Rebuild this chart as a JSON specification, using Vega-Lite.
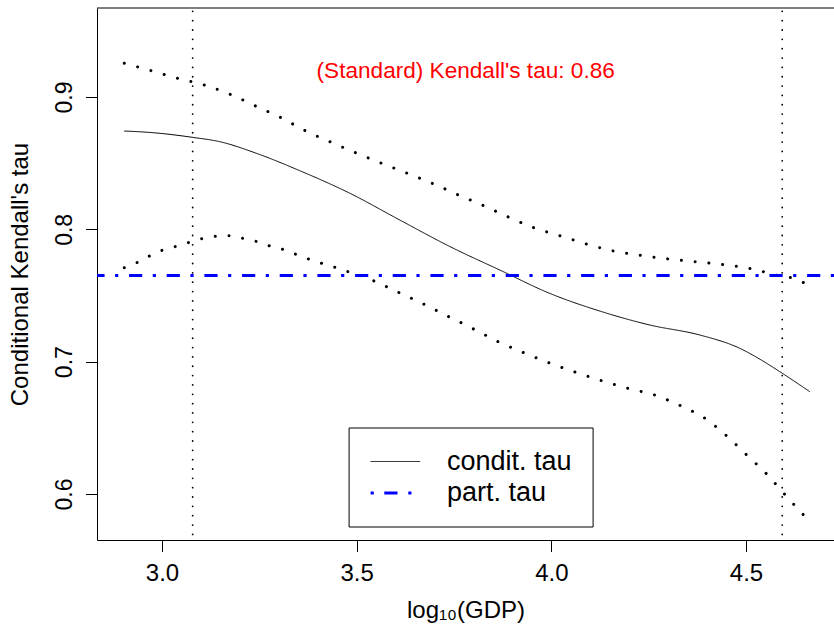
{
  "$schema": "https://vega.github.io/schema/vega-lite/v6.json",
  "width": 737,
  "height": 532,
  "autosize": {"type": "none"},
  "padding": {"left": 97, "top": 8, "right": 0, "bottom": 84},
  "background": "white",
  "config": {
    "font": "Liberation Sans",
    "view": {"stroke": null},
    "axis": {
      "grid": false,
      "domainColor": "black",
      "domainWidth": 1,
      "tickColor": "black",
      "tickWidth": 1,
      "tickSize": 11.5,
      "labelColor": "black",
      "titleColor": "black",
      "labelFont": "Liberation Sans",
      "titleFont": "Liberation Sans",
      "labelFontSize": 24,
      "titleFontSize": 24,
      "titleFontWeight": "normal"
    }
  },
  "datasets": {
    "condit": [
      {"x": 2.903, "y": 0.8743, "series": "condit. tau"},
      {"x": 2.978, "y": 0.8730, "series": "condit. tau"},
      {"x": 3.079, "y": 0.8695, "series": "condit. tau"},
      {"x": 3.149, "y": 0.8662, "series": "condit. tau"},
      {"x": 3.243, "y": 0.8574, "series": "condit. tau"},
      {"x": 3.354, "y": 0.8443, "series": "condit. tau"},
      {"x": 3.483, "y": 0.8272, "series": "condit. tau"},
      {"x": 3.611, "y": 0.8070, "series": "condit. tau"},
      {"x": 3.740, "y": 0.7869, "series": "condit. tau"},
      {"x": 3.868, "y": 0.7692, "series": "condit. tau"},
      {"x": 3.996, "y": 0.7516, "series": "condit. tau"},
      {"x": 4.125, "y": 0.7382, "series": "condit. tau"},
      {"x": 4.253, "y": 0.7277, "series": "condit. tau"},
      {"x": 4.382, "y": 0.7201, "series": "condit. tau"},
      {"x": 4.484, "y": 0.7101, "series": "condit. tau"},
      {"x": 4.536, "y": 0.7018, "series": "condit. tau"},
      {"x": 4.587, "y": 0.6924, "series": "condit. tau"},
      {"x": 4.664, "y": 0.6773, "series": "condit. tau"}
    ],
    "partial": [
      {"y": 0.7652, "series": "part. tau"}
    ],
    "bands": [
      {"band": "upper", "x": 2.9032, "y": 0.9255},
      {"band": "upper", "x": 2.9718, "y": 0.9199},
      {"band": "upper", "x": 3.0403, "y": 0.9141},
      {"band": "upper", "x": 3.1086, "y": 0.9091},
      {"band": "upper", "x": 3.1754, "y": 0.9020},
      {"band": "upper", "x": 3.2406, "y": 0.8932},
      {"band": "upper", "x": 3.3056, "y": 0.8844},
      {"band": "upper", "x": 3.3683, "y": 0.8745},
      {"band": "upper", "x": 3.4330, "y": 0.8660},
      {"band": "upper", "x": 3.4987, "y": 0.8577},
      {"band": "upper", "x": 3.5642, "y": 0.8499},
      {"band": "upper", "x": 3.6307, "y": 0.8423},
      {"band": "upper", "x": 3.6962, "y": 0.8345},
      {"band": "upper", "x": 3.7620, "y": 0.8259},
      {"band": "upper", "x": 3.8267, "y": 0.8178},
      {"band": "upper", "x": 3.8914, "y": 0.8091},
      {"band": "upper", "x": 3.9569, "y": 0.8010},
      {"band": "upper", "x": 4.0241, "y": 0.7950},
      {"band": "upper", "x": 4.0925, "y": 0.7887},
      {"band": "upper", "x": 4.1605, "y": 0.7836},
      {"band": "upper", "x": 4.2306, "y": 0.7803},
      {"band": "upper", "x": 4.3012, "y": 0.7776},
      {"band": "upper", "x": 4.3721, "y": 0.7755},
      {"band": "upper", "x": 4.4430, "y": 0.7733},
      {"band": "upper", "x": 4.5128, "y": 0.7702},
      {"band": "upper", "x": 4.5480, "y": 0.7677},
      {"band": "upper", "x": 4.5812, "y": 0.7652},
      {"band": "upper", "x": 4.6161, "y": 0.7634},
      {"band": "upper", "x": 4.6494, "y": 0.7596},
      {"band": "upper", "x": 4.6640, "y": 0.7585},
      {"band": "lower", "x": 2.9032, "y": 0.7710},
      {"band": "lower", "x": 2.9350, "y": 0.7748},
      {"band": "lower", "x": 2.9674, "y": 0.7798},
      {"band": "lower", "x": 3.0000, "y": 0.7841},
      {"band": "lower", "x": 3.0334, "y": 0.7869},
      {"band": "lower", "x": 3.0675, "y": 0.7899},
      {"band": "lower", "x": 3.1020, "y": 0.7929},
      {"band": "lower", "x": 3.1369, "y": 0.7947},
      {"band": "lower", "x": 3.1721, "y": 0.7952},
      {"band": "lower", "x": 3.2072, "y": 0.7932},
      {"band": "lower", "x": 3.2414, "y": 0.7909},
      {"band": "lower", "x": 3.2756, "y": 0.7876},
      {"band": "lower", "x": 3.3100, "y": 0.7849},
      {"band": "lower", "x": 3.3423, "y": 0.7813},
      {"band": "lower", "x": 3.3762, "y": 0.7776},
      {"band": "lower", "x": 3.4104, "y": 0.7743},
      {"band": "lower", "x": 3.4445, "y": 0.7713},
      {"band": "lower", "x": 3.4777, "y": 0.7680},
      {"band": "lower", "x": 3.5118, "y": 0.7650},
      {"band": "lower", "x": 3.5450, "y": 0.7609},
      {"band": "lower", "x": 3.5773, "y": 0.7566},
      {"band": "lower", "x": 3.6097, "y": 0.7521},
      {"band": "lower", "x": 3.6412, "y": 0.7478},
      {"band": "lower", "x": 3.6736, "y": 0.7433},
      {"band": "lower", "x": 3.7365, "y": 0.7340},
      {"band": "lower", "x": 3.8012, "y": 0.7246},
      {"band": "lower", "x": 3.8642, "y": 0.7150},
      {"band": "lower", "x": 3.9296, "y": 0.7067},
      {"band": "lower", "x": 3.9954, "y": 0.6990},
      {"band": "lower", "x": 4.0617, "y": 0.6921},
      {"band": "lower", "x": 4.1292, "y": 0.6856},
      {"band": "lower", "x": 4.1972, "y": 0.6798},
      {"band": "lower", "x": 4.2655, "y": 0.6748},
      {"band": "lower", "x": 4.3320, "y": 0.6667},
      {"band": "lower", "x": 4.3950, "y": 0.6571},
      {"band": "lower", "x": 4.4500, "y": 0.6440},
      {"band": "lower", "x": 4.5015, "y": 0.6296},
      {"band": "lower", "x": 4.5524, "y": 0.6153},
      {"band": "lower", "x": 4.5986, "y": 0.6000},
      {"band": "lower", "x": 4.6485, "y": 0.5840},
      {"band": "lower", "x": 4.6640, "y": 0.5795}
    ],
    "verticals": [
      {"x": 3.0788},
      {"x": 4.593}
    ],
    "frameTop": [
      {"y": 0.96726}
    ],
    "note": [
      {"x": 3.780, "y": 0.9141, "label": "(Standard) Kendall's tau: 0.86"}
    ]
  },
  "layer": [
    {
      "data": {"name": "condit"},
      "mark": {"type": "line", "interpolate": "monotone", "strokeWidth": 1},
      "encoding": {
        "x": {
          "field": "x", "type": "quantitative",
          "scale": {"domain": [2.8331, 4.726], "nice": false, "zero": false},
          "axis": {"values": [3, 3.5, 4, 4.5], "format": ".1f", "labelPadding": 10, "title": "log₁₀(GDP)", "titleY": 77.5, "titleBaseline": "alphabetic", "labelFlush": false}
        },
        "y": {
          "field": "y", "type": "quantitative",
          "scale": {"domain": [0.56524, 0.96726], "nice": false, "zero": false},
          "axis": {"values": [0.6, 0.7, 0.8, 0.9], "format": ".1f", "labelAngle": -90, "labelAlign": "center", "labelBaseline": "alphabetic", "labelPadding": 14, "labelFontSize": 23, "title": "Conditional Kendall's tau", "titleX": -69.3, "titleY": 266, "titleAngle": -90, "titleAlign": "center", "titleBaseline": "alphabetic", "labelFlush": false}
        },
        "color": {
          "field": "series", "type": "nominal",
          "scale": {"domain": ["condit. tau", "part. tau"], "range": ["black", "blue"]},
          "legend": {
            "orient": "none",
            "legendX": 251.6,
            "legendY": 419.5,
            "direction": "vertical",
            "title": null,
            "strokeColor": "black",
            "fillColor": "white",
            "padding": 20.5,
            "cornerRadius": 0,
            "labelFontSize": 27,
            "labelFont": "Liberation Sans",
            "labelColor": "black",
            "labelOffset": 38,
            "symbolOffset": 12.8,
            "rowPadding": 3.5,
            "symbolType": "M-1.6,0L1.6,0",
            "symbolSize": 961,
            "symbolFillColor": "transparent",
            "encode": {
              "symbols": {
                "update": {
                  "strokeWidth": {"signal": "datum.value === 'part. tau' ? 3 : 1"},
                  "fill": {"value": "transparent"}
                }
              }
            }
          }
        },
        "strokeDash": {
          "field": "series", "type": "nominal",
          "scale": {"domain": ["condit. tau", "part. tau"], "range": [[1, 0], [3.2, 10.5, 13.2, 10.77]]}
        }
      }
    },
    {
      "data": {"name": "verticals"},
      "mark": {"type": "rule", "color": "black", "strokeWidth": 1.8, "strokeCap": "round", "strokeDash": [0.01, 9.33], "strokeDashOffset": 6},
      "encoding": {
        "x": {"field": "x", "type": "quantitative", "scale": {"domain": [2.8331, 4.726], "nice": false, "zero": false}}
      }
    },
    {
      "data": {"name": "bands"},
      "mark": {"type": "line", "color": "black", "strokeWidth": 3, "strokeCap": "round", "strokeDash": [0.01, 13.8], "interpolate": "monotone"},
      "encoding": {
        "x": {"field": "x", "type": "quantitative", "scale": {"domain": [2.8331, 4.726], "nice": false, "zero": false}},
        "y": {"field": "y", "type": "quantitative", "scale": {"domain": [0.56524, 0.96726], "nice": false, "zero": false}},
        "detail": {"field": "band", "type": "nominal"}
      }
    },
    {
      "data": {"name": "partial"},
      "mark": {"type": "rule", "strokeCap": "butt", "strokeWidth": 3},
      "encoding": {
        "y": {"field": "y", "type": "quantitative", "scale": {"domain": [0.56524, 0.96726], "nice": false, "zero": false}},
        "color": {"field": "series", "type": "nominal"},
        "strokeDash": {"field": "series", "type": "nominal"}
      }
    },
    {
      "data": {"name": "frameTop"},
      "mark": {"type": "rule", "color": "black", "strokeWidth": 1},
      "encoding": {
        "y": {"field": "y", "type": "quantitative", "scale": {"domain": [0.56524, 0.96726], "nice": false, "zero": false}}
      }
    },
    {
      "data": {"name": "note"},
      "mark": {"type": "text", "color": "red", "fontSize": 22.6, "font": "Liberation Sans", "align": "center", "baseline": "alphabetic"},
      "encoding": {
        "x": {"field": "x", "type": "quantitative", "scale": {"domain": [2.8331, 4.726], "nice": false, "zero": false}},
        "y": {"field": "y", "type": "quantitative", "scale": {"domain": [0.56524, 0.96726], "nice": false, "zero": false}},
        "text": {"field": "label", "type": "nominal"}
      }
    }
  ]
}
